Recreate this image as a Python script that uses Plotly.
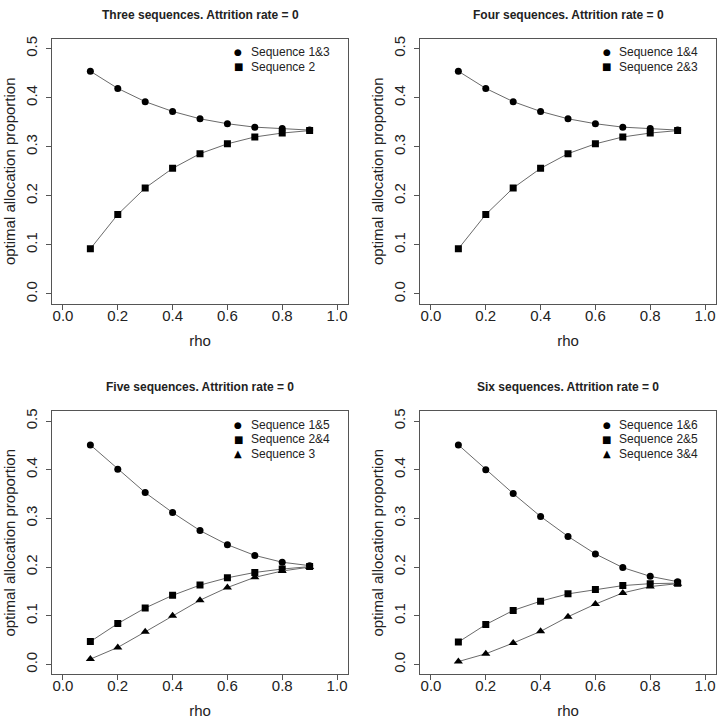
import plotly.graph_objects as go

rho = [0.1, 0.2, 0.3, 0.4, 0.5, 0.6, 0.7, 0.8, 0.9]

# Three sequences
three_s13 = [0.454, 0.419, 0.392, 0.372, 0.357, 0.347, 0.340, 0.337, 0.334]
three_s2 = [0.092, 0.162, 0.216, 0.256, 0.286, 0.306, 0.320, 0.328, 0.333]
# Four sequences
four_s14 = [0.454, 0.419, 0.392, 0.372, 0.357, 0.347, 0.340, 0.337, 0.334]
four_s23 = [0.092, 0.162, 0.216, 0.256, 0.286, 0.306, 0.320, 0.328, 0.333]
# Five sequences
five_s15 = [0.451, 0.401, 0.353, 0.312, 0.275, 0.246, 0.224, 0.210, 0.203]
five_s24 = [0.047, 0.084, 0.116, 0.142, 0.163, 0.178, 0.189, 0.196, 0.201]
five_s3 = [0.011, 0.035, 0.067, 0.100, 0.132, 0.158, 0.179, 0.192, 0.200]
# Six sequences
six_s16 = [0.451, 0.400, 0.351, 0.304, 0.263, 0.227, 0.199, 0.181, 0.170]
six_s25 = [0.046, 0.082, 0.111, 0.130, 0.145, 0.154, 0.162, 0.166, 0.167]
six_s34 = [0.006, 0.022, 0.044, 0.068, 0.098, 0.124, 0.147, 0.160, 0.166]

titles = ["Three sequences. Attrition rate = 0", "Four sequences. Attrition rate = 0",
          "Five sequences. Attrition rate = 0", "Six sequences. Attrition rate = 0"]

panels = [
    [("Sequence 1&3", three_s13, "circle"), ("Sequence 2", three_s2, "square")],
    [("Sequence 1&4", four_s14, "circle"), ("Sequence 2&3", four_s23, "square")],
    [("Sequence 1&5", five_s15, "circle"), ("Sequence 2&4", five_s24, "square"), ("Sequence 3", five_s3, "triangle-up")],
    [("Sequence 1&6", six_s16, "circle"), ("Sequence 2&5", six_s25, "square"), ("Sequence 3&4", six_s34, "triangle-up")],
]

W = 724.0
# plot box in pixels: (x0, x1, y0_top, y1_bottom)
boxes = [(52, 348, 36, 302), (420, 716, 36, 302), (52, 348, 410, 674), (420, 716, 410, 674)]

FONT = "Liberation Sans, Arial, sans-serif"
sizes = {"circle": 7, "square": 7, "triangle-up": 8}
glyphs = {"circle": ("\u25cf", 9), "square": ("\u25a0", 10), "triangle-up": ("\u25b2", 10)}

fig = go.Figure()
layout = dict(
    width=724, height=724, margin=dict(l=0, r=0, t=0, b=0),
    paper_bgcolor="white", plot_bgcolor="white",
    font=dict(family=FONT, color="black"),
    annotations=[], showlegend=False,
)

for i, (series, box) in enumerate(zip(panels, boxes)):
    n = i + 1
    xa = "x" if n == 1 else f"x{n}"
    ya = "y" if n == 1 else f"y{n}"
    x0, x1, yt, yb = box
    for k, (name, vals, sym) in enumerate(series):
        fig.add_trace(go.Scatter(x=rho, y=vals, mode="lines", line=dict(color="#6a6a6a", width=1),
                                 xaxis=xa, yaxis=ya, hoverinfo="skip"))
        fig.add_trace(go.Scatter(x=rho, y=vals, mode="markers", name=name,
                                 marker=dict(symbol=sym, size=sizes[sym], color="black"),
                                 xaxis=xa, yaxis=ya))
        # legend key and label
        ry = yt + 13.5 + 14.5 * k
        g, gs = glyphs[sym]
        layout["annotations"].append(dict(
            text=g, xref="paper", yref="paper", x=(x0 + 186.5) / W, y=1 - ry / W,
            xanchor="center", yanchor="middle", showarrow=False,
            font=dict(size=gs, family="DejaVu Sans", color="black")))
        layout["annotations"].append(dict(
            text=name, xref="paper", yref="paper", x=(x0 + 197) / W, y=1 - ry / W,
            xanchor="left", yanchor="middle", showarrow=False,
            font=dict(size=12, family=FONT, color="#222222")))
    dx = [x0 / W, x1 / W]
    dy = [1 - yb / W, 1 - yt / W]
    axcommon = dict(showline=True, linecolor="#555555", linewidth=1, mirror=True,
                    ticks="outside", ticklen=5, tickcolor="#555555", showgrid=False, zeroline=False,
                    tickfont=dict(size=15, family=FONT, color="#222222"),
                    title_font=dict(size=15, family=FONT, color="#222222"))
    layout["xaxis" if n == 1 else f"xaxis{n}"] = dict(
        axcommon, domain=dx, range=[-0.04, 1.04], tickvals=[0, 0.2, 0.4, 0.6, 0.8, 1.0],
        ticktext=["0.0", "0.2", "0.4", "0.6", "0.8", "1.0"], anchor=ya, ticklabelstandoff=-7,
        title=dict(text="rho", standoff=12))
    layout["yaxis" if n == 1 else f"yaxis{n}"] = dict(
        axcommon, domain=dy, range=[-0.02, 0.52], tickvals=[0, 0.1, 0.2, 0.3, 0.4, 0.5],
        ticktext=["0.0", "0.1", "0.2", "0.3", "0.4", "0.5"], tickangle=-90, anchor=xa,
        ticklabelstandoff=3, title=dict(text="optimal allocation proportion", standoff=3))
    layout["annotations"].append(dict(
        text=f"<b>{titles[i]}</b>", xref="paper", yref="paper",
        x=(x0 + x1) / 2 / W, y=1 - (yt - 24) / W, xanchor="center", yanchor="middle",
        showarrow=False, font=dict(size=12, family=FONT, color="#222222")))

fig.update_layout(**layout)
fig.write_html("out.html", config={"displayModeBar": False},
               post_script="document.body.style.margin='0';document.body.style.overflow='hidden';")
